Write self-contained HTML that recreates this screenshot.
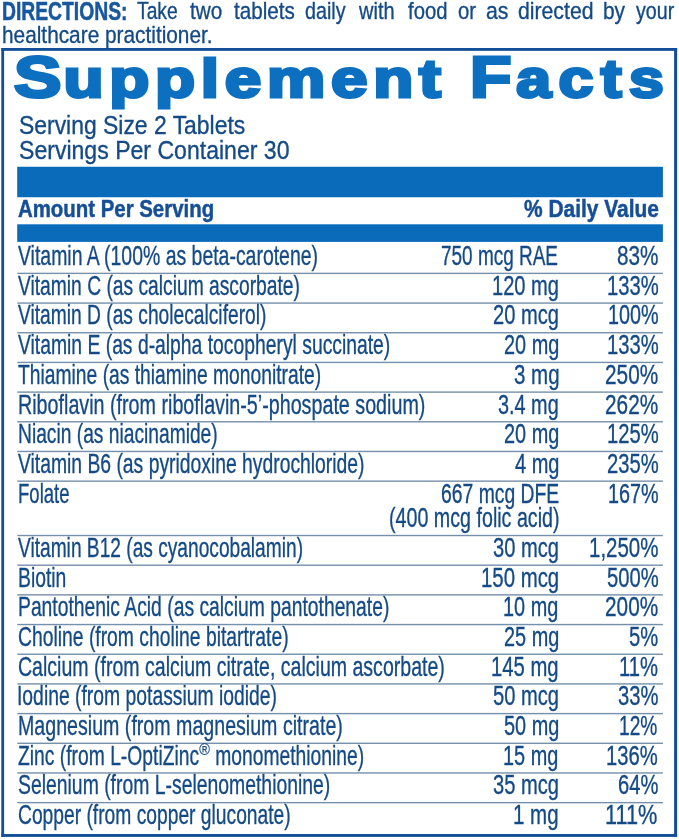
<!DOCTYPE html>
<html lang="en"><head><meta charset="utf-8"><title>Supplement Facts</title>
<style>
html,body{margin:0;padding:0;background:#fff;}
body{width:679px;height:839px;position:relative;overflow:hidden;font-family:"Liberation Sans",Arial,Helvetica,sans-serif;color:#144a86;}
.t{position:absolute;white-space:nowrap;transform-origin:0 0;-webkit-text-stroke:0.35px currentColor;}
.b{font-weight:bold;-webkit-text-stroke:0;}
.bar{position:absolute;background:#0a6bba;}
.ln{position:absolute;height:1px;box-shadow:0 1px 0 rgba(150,190,225,0.35),0 -1px 0 rgba(150,190,225,0.18);background:#7590aa;left:17.3px;width:645.5px;}
.bx{position:absolute;background:#134f98;}
.dirb{color:#18589f;-webkit-text-stroke:0.55px #18589f;}
.hb{color:#164f97;-webkit-text-stroke:0.5px #164f97;}
.title{color:#0d6fc0;-webkit-text-stroke:3.0px #0d6fc0;font-size:53px;line-height:53px;}
.tw1{letter-spacing:4.633px;}
.tw1::first-letter{font-size:57.5px;letter-spacing:1.644px;}
.tw2{letter-spacing:6.300px;}
.tw2::first-letter{font-size:57.5px;letter-spacing:4.131px;}
sup{font-size:60%;vertical-align:baseline;position:relative;top:-0.55em;line-height:0;display:inline-block;transform:scaleX(1.25);transform-origin:0 50%;margin-right:0.19em;-webkit-text-stroke:0.2px currentColor;}
</style></head><body>

<svg width="679" height="839" viewBox="0 0 679 839" style="position:absolute;left:0;top:0">
<rect x="1.3" y="48" width="2.8" height="788.9" fill="#134f98"/>
<rect x="674.1" y="48" width="3" height="788.9" fill="#134f98"/>
<rect x="1.3" y="48" width="675.8" height="2.85" fill="#134f98"/>
<rect x="1.3" y="834" width="675.8" height="2.9" fill="#134f98"/>
<rect x="17.2" y="166.75" width="645.7" height="30.5" fill="#0a6bba"/>
<rect x="17.2" y="224.3" width="645.7" height="17.6" fill="#0a6bba"/>
<rect x="17.3" y="272.68" width="645.6" height="1.4" fill="#7590aa"/>
<rect x="17.3" y="302.36" width="645.6" height="1.4" fill="#7590aa"/>
<rect x="17.3" y="332.04" width="645.6" height="1.4" fill="#7590aa"/>
<rect x="17.3" y="361.72" width="645.6" height="1.4" fill="#7590aa"/>
<rect x="17.3" y="391.40" width="645.6" height="1.4" fill="#7590aa"/>
<rect x="17.3" y="421.08" width="645.6" height="1.4" fill="#7590aa"/>
<rect x="17.3" y="450.76" width="645.6" height="1.4" fill="#7590aa"/>
<rect x="17.3" y="480.44" width="645.6" height="1.4" fill="#7590aa"/>
<rect x="17.3" y="534.82" width="645.6" height="1.4" fill="#7590aa"/>
<rect x="17.3" y="564.50" width="645.6" height="1.4" fill="#7590aa"/>
<rect x="17.3" y="594.18" width="645.6" height="1.4" fill="#7590aa"/>
<rect x="17.3" y="623.86" width="645.6" height="1.4" fill="#7590aa"/>
<rect x="17.3" y="653.54" width="645.6" height="1.4" fill="#7590aa"/>
<rect x="17.3" y="683.22" width="645.6" height="1.4" fill="#7590aa"/>
<rect x="17.3" y="712.90" width="645.6" height="1.4" fill="#7590aa"/>
<rect x="17.3" y="742.58" width="645.6" height="1.4" fill="#7590aa"/>
<rect x="17.3" y="772.26" width="645.6" height="1.4" fill="#7590aa"/>
<rect x="17.3" y="801.94" width="645.6" height="1.4" fill="#7590aa"/>
</svg>
<div class="t b title tw1" style="left:13.94px;top:50.88px;transform:scaleX(1.2372)">Supplement</div>
<div class="t b title tw2" style="left:469.88px;top:50.88px;transform:scaleX(1.1806)">Facts</div>
<div class="t b dirb" style="left:1.96px;top:-0.76px;font-size:25px;line-height:25px;transform:scaleX(0.7722)">DIRECTIONS:</div>
<div class="t " style="left:136.84px;top:-0.84px;font-size:24.5px;line-height:24.5px;transform:scaleX(0.7858)">Take</div>
<div class="t " style="left:189.85px;top:-0.84px;font-size:24.5px;line-height:24.5px;transform:scaleX(0.8443)">two</div>
<div class="t " style="left:233.88px;top:-0.84px;font-size:24.5px;line-height:24.5px;transform:scaleX(0.8421)">tablets</div>
<div class="t " style="left:305.04px;top:-0.84px;font-size:24.5px;line-height:24.5px;transform:scaleX(0.8061)">daily</div>
<div class="t " style="left:358.92px;top:-0.84px;font-size:24.5px;line-height:24.5px;transform:scaleX(0.8167)">with</div>
<div class="t " style="left:407.90px;top:-0.84px;font-size:24.5px;line-height:24.5px;transform:scaleX(0.8264)">food</div>
<div class="t " style="left:457.98px;top:-0.84px;font-size:24.5px;line-height:24.5px;transform:scaleX(0.8277)">or</div>
<div class="t " style="left:485.98px;top:-0.84px;font-size:24.5px;line-height:24.5px;transform:scaleX(0.8683)">as</div>
<div class="t " style="left:517.96px;top:-0.84px;font-size:24.5px;line-height:24.5px;transform:scaleX(0.8659)">directed</div>
<div class="t " style="left:603.00px;top:-0.84px;font-size:24.5px;line-height:24.5px;transform:scaleX(0.8511)">by</div>
<div class="t " style="left:635.90px;top:-0.84px;font-size:24.5px;line-height:24.5px;transform:scaleX(0.8012)">your</div>
<div class="t " style="left:1.96px;top:22.76px;font-size:24.5px;line-height:24.5px;transform:scaleX(0.8496)">healthcare practitioner.</div>
<div class="t " style="left:18.97px;top:111.89px;font-size:26px;line-height:26px;transform:scaleX(0.8811)">Serving Size 2 Tablets</div>
<div class="t " style="left:18.97px;top:136.79px;font-size:26px;line-height:26px;transform:scaleX(0.8870)">Servings Per Container 30</div>
<div class="t b hb" style="left:17.87px;top:196.76px;font-size:24.5px;line-height:24.5px;transform:scaleX(0.8326)">Amount Per Serving</div>
<div class="t b hb" style="left:523.90px;top:196.76px;font-size:24.5px;line-height:24.5px;transform:scaleX(0.8546)">% Daily Value</div>
<div class="t " style="left:17.87px;top:242.10px;font-size:28px;line-height:28px;transform:scaleX(0.6942)">Vitamin A (100% as beta-carotene)</div>
<div class="t " style="left:441.49px;top:242.10px;font-size:28px;line-height:28px;transform:scaleX(0.6770)">750 mcg RAE</div>
<div class="t " style="left:616.85px;top:242.10px;font-size:28px;line-height:28px;transform:scaleX(0.7389)">83%</div>
<div class="t " style="left:17.87px;top:271.78px;font-size:28px;line-height:28px;transform:scaleX(0.6871)">Vitamin C (as calcium ascorbate)</div>
<div class="t " style="left:492.35px;top:271.78px;font-size:28px;line-height:28px;transform:scaleX(0.7178)">120 mg</div>
<div class="t " style="left:606.85px;top:271.78px;font-size:28px;line-height:28px;transform:scaleX(0.7212)">133%</div>
<div class="t " style="left:17.87px;top:301.46px;font-size:28px;line-height:28px;transform:scaleX(0.6861)">Vitamin D (as cholecalciferol)</div>
<div class="t " style="left:493.00px;top:301.46px;font-size:28px;line-height:28px;transform:scaleX(0.7184)">20 mcg</div>
<div class="t " style="left:607.85px;top:301.46px;font-size:28px;line-height:28px;transform:scaleX(0.7068)">100%</div>
<div class="t " style="left:17.87px;top:331.14px;font-size:28px;line-height:28px;transform:scaleX(0.6900)">Vitamin E (as d-alpha tocopheryl succinate)</div>
<div class="t " style="left:504.00px;top:331.14px;font-size:28px;line-height:28px;transform:scaleX(0.7099)">20 mg</div>
<div class="t " style="left:606.85px;top:331.14px;font-size:28px;line-height:28px;transform:scaleX(0.7212)">133%</div>
<div class="t " style="left:17.87px;top:360.82px;font-size:28px;line-height:28px;transform:scaleX(0.6884)">Thiamine (as thiamine mononitrate)</div>
<div class="t " style="left:514.00px;top:360.82px;font-size:28px;line-height:28px;transform:scaleX(0.7321)">3 mg</div>
<div class="t " style="left:604.90px;top:360.82px;font-size:28px;line-height:28px;transform:scaleX(0.7426)">250%</div>
<div class="t " style="left:17.96px;top:390.50px;font-size:28px;line-height:28px;transform:scaleX(0.7037)">Riboflavin (from riboflavin-5’-phospate sodium)</div>
<div class="t " style="left:498.00px;top:390.50px;font-size:28px;line-height:28px;transform:scaleX(0.7087)">3.4 mg</div>
<div class="t " style="left:604.90px;top:390.50px;font-size:28px;line-height:28px;transform:scaleX(0.7426)">262%</div>
<div class="t " style="left:17.96px;top:420.18px;font-size:28px;line-height:28px;transform:scaleX(0.6862)">Niacin (as niacinamide)</div>
<div class="t " style="left:504.00px;top:420.18px;font-size:28px;line-height:28px;transform:scaleX(0.7099)">20 mg</div>
<div class="t " style="left:606.85px;top:420.18px;font-size:28px;line-height:28px;transform:scaleX(0.7212)">125%</div>
<div class="t " style="left:17.87px;top:449.86px;font-size:28px;line-height:28px;transform:scaleX(0.6900)">Vitamin B6 (as pyridoxine hydrochloride)</div>
<div class="t " style="left:514.90px;top:449.86px;font-size:28px;line-height:28px;transform:scaleX(0.7146)">4 mg</div>
<div class="t " style="left:606.85px;top:449.86px;font-size:28px;line-height:28px;transform:scaleX(0.7212)">235%</div>
<div class="t " style="left:17.96px;top:479.54px;font-size:28px;line-height:28px;transform:scaleX(0.6621)">Folate</div>
<div class="t " style="left:441.49px;top:479.54px;font-size:28px;line-height:28px;transform:scaleX(0.6906)">667 mcg DFE</div>
<div class="t " style="left:607.85px;top:479.54px;font-size:28px;line-height:28px;transform:scaleX(0.7068)">167%</div>
<div class="t " style="left:388.90px;top:504.24px;font-size:28px;line-height:28px;transform:scaleX(0.7026)">(400 mcg folic acid)</div>
<div class="t " style="left:17.87px;top:533.92px;font-size:28px;line-height:28px;transform:scaleX(0.6842)">Vitamin B12 (as cyanocobalamin)</div>
<div class="t " style="left:493.00px;top:533.92px;font-size:28px;line-height:28px;transform:scaleX(0.7184)">30 mcg</div>
<div class="t " style="left:588.85px;top:533.92px;font-size:28px;line-height:28px;transform:scaleX(0.7314)">1,250%</div>
<div class="t " style="left:17.96px;top:563.60px;font-size:28px;line-height:28px;transform:scaleX(0.6900)">Biotin</div>
<div class="t " style="left:481.05px;top:563.60px;font-size:28px;line-height:28px;transform:scaleX(0.7283)">150 mcg</div>
<div class="t " style="left:606.85px;top:563.60px;font-size:28px;line-height:28px;transform:scaleX(0.7212)">500%</div>
<div class="t " style="left:17.96px;top:593.28px;font-size:28px;line-height:28px;transform:scaleX(0.6896)">Pantothenic Acid (as calcium pantothenate)</div>
<div class="t " style="left:503.25px;top:593.28px;font-size:28px;line-height:28px;transform:scaleX(0.7099)">10 mg</div>
<div class="t " style="left:604.90px;top:593.28px;font-size:28px;line-height:28px;transform:scaleX(0.7426)">200%</div>
<div class="t " style="left:17.96px;top:622.96px;font-size:28px;line-height:28px;transform:scaleX(0.6900)">Choline (from choline bitartrate)</div>
<div class="t " style="left:504.00px;top:622.96px;font-size:28px;line-height:28px;transform:scaleX(0.7099)">25 mg</div>
<div class="t " style="left:628.90px;top:622.96px;font-size:28px;line-height:28px;transform:scaleX(0.7200)">5%</div>
<div class="t " style="left:17.96px;top:652.64px;font-size:28px;line-height:28px;transform:scaleX(0.6980)">Calcium (from calcium citrate, calcium ascorbate)</div>
<div class="t " style="left:491.30px;top:652.64px;font-size:28px;line-height:28px;transform:scaleX(0.7233)">145 mg</div>
<div class="t " style="left:619.25px;top:652.64px;font-size:28px;line-height:28px;transform:scaleX(0.7226)">11%</div>
<div class="t " style="left:17.06px;top:682.32px;font-size:28px;line-height:28px;transform:scaleX(0.6905)">Iodine (from potassium iodide)</div>
<div class="t " style="left:493.00px;top:682.32px;font-size:28px;line-height:28px;transform:scaleX(0.7184)">50 mcg</div>
<div class="t " style="left:617.85px;top:682.32px;font-size:28px;line-height:28px;transform:scaleX(0.7205)">33%</div>
<div class="t " style="left:17.96px;top:712.00px;font-size:28px;line-height:28px;transform:scaleX(0.7006)">Magnesium (from magnesium citrate)</div>
<div class="t " style="left:504.00px;top:712.00px;font-size:28px;line-height:28px;transform:scaleX(0.7099)">50 mg</div>
<div class="t " style="left:619.15px;top:712.00px;font-size:28px;line-height:28px;transform:scaleX(0.6836)">12%</div>
<div class="t " style="left:17.87px;top:741.68px;font-size:28px;line-height:28px;transform:scaleX(0.6888)">Zinc (from L-OptiZinc<sup>®</sup> monomethionine)</div>
<div class="t " style="left:503.25px;top:741.68px;font-size:28px;line-height:28px;transform:scaleX(0.7099)">15 mg</div>
<div class="t " style="left:606.05px;top:741.68px;font-size:28px;line-height:28px;transform:scaleX(0.7212)">136%</div>
<div class="t " style="left:17.96px;top:771.36px;font-size:28px;line-height:28px;transform:scaleX(0.6920)">Selenium (from L-selenomethionine)</div>
<div class="t " style="left:493.00px;top:771.36px;font-size:28px;line-height:28px;transform:scaleX(0.7184)">35 mcg</div>
<div class="t " style="left:617.85px;top:771.36px;font-size:28px;line-height:28px;transform:scaleX(0.7205)">64%</div>
<div class="t " style="left:17.96px;top:801.04px;font-size:28px;line-height:28px;transform:scaleX(0.6872)">Copper (from copper gluconate)</div>
<div class="t " style="left:513.35px;top:801.04px;font-size:28px;line-height:28px;transform:scaleX(0.7321)">1 mg</div>
<div class="t " style="left:605.15px;top:801.04px;font-size:28px;line-height:28px;transform:scaleX(0.7750)">111%</div>
</body></html>
